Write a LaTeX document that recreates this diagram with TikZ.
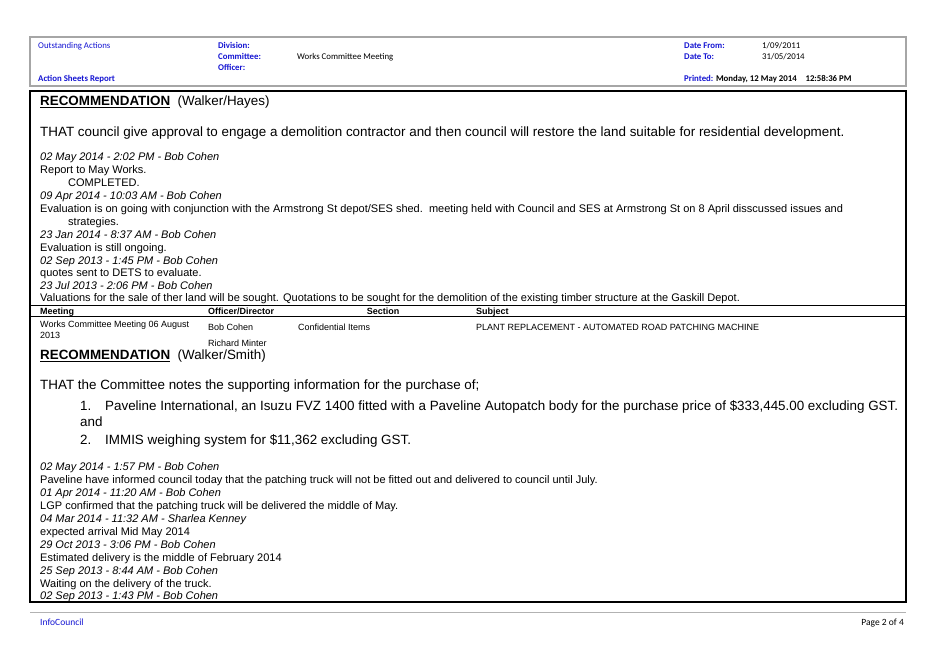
\documentclass[tikz,border=0pt]{standalone}
\usepackage{fontspec}
\setmainfont{Liberation Sans}
\newfontfamily\hdr{Carlito}
\definecolor{hblue}{RGB}{20,20,210}
\begin{document}
\begin{tikzpicture}[x=1pt,y=-1pt,
  base/.style={anchor=west,inner sep=0pt,text height=1.5ex,text depth=.3ex},
  t/.style={base,font=\fontsize{11}{12}\selectfont},
  ti/.style={base,font=\fontsize{11}{12}\selectfont\itshape},
  big/.style={base,font=\fontsize{13.4}{15}\selectfont},
  rec/.style={base,font=\fontsize{13.4}{15}\selectfont},
  sm/.style={base,font=\fontsize{9}{10}\selectfont},
  smb/.style={base,font=\fontsize{9}{10}\selectfont\bfseries},
  h/.style={base,font=\hdr\fontsize{8.8}{9}\selectfont},
  hb/.style={base,font=\hdr\fontsize{8.8}{9}\selectfont\bfseries,text=hblue}]
\useasboundingbox (0,0) rectangle (939,664);
% header box
\draw[gray!70,line width=1.2pt] (30,37) rectangle (906,86);
\node[h,text=hblue] (oa) at (38,45) {Outstanding Actions};
\node[hb] (div) at (218,45) {Division:};
\node[hb] (com) at (218,56) {Committee:};
\node[hb] (off) at (218,67) {Officer:};
\node[h] (wcm) at (297,56) {Works Committee Meeting};
\node[hb] (asr) at (38,78) {Action Sheets Report};
\node[hb] (df) at (684,45) {Date From:};
\node[h] (dfv) at (762,45) {1/09/2011};
\node[hb] (dt) at (684,56) {Date To:};
\node[h] (dtv) at (762,56) {31/05/2014};
\node[hb] (pr) at (684,78) {Printed: \textcolor{black}{Monday, 12 May 2014\quad 12:58:36 PM}};
% main box
\draw[line width=1.3pt] (30,91) rectangle (906,602);
\draw[line width=1pt] (30,305) -- (906,305);
\draw[line width=1pt] (30,316.5) -- (906,316.5);
\node[rec] (r1) at (40,102) {\textbf{\underline{RECOMMENDATION}}\ \ (Walker/Hayes)};
\node[big] (p1) at (40,133) {THAT council give approval to engage a demolition contractor and then council will restore the land suitable for residential development.};
\node[ti] (a1) at (40,157) {02 May 2014 - 2:02 PM - Bob Cohen};
\node[t] (a2) at (40,170) {Report to May Works.};
\node[t] (a3) at (68,183) {COMPLETED.};
\node[ti] (a4) at (40,196) {09 Apr 2014 - 10:03 AM - Bob Cohen};
\node[t] (a5) at (40,209) {Evaluation is on going with conjunction with the Armstrong St depot/SES shed.\ \ meeting held with Council and SES at Armstrong St on 8 April disscussed issues and};
\node[t] (a6) at (68,222) {strategies.};
\node[ti] (a7) at (40,235) {23 Jan 2014 - 8:37 AM - Bob Cohen};
\node[t] (a8) at (40,248) {Evaluation is still ongoing.};
\node[ti] (a9) at (40,261) {02 Sep 2013 - 1:45 PM - Bob Cohen};
\node[t] (a10) at (40,273) {quotes sent to DETS to evaluate.};
\node[ti] (a11) at (40,286) {23 Jul 2013 - 2:06 PM - Bob Cohen};
\node[t] (a12) at (40,298) {Valuations for the sale of ther land will be sought. Quotations to be sought for the demolition of the existing timber structure at the Gaskill Depot.};
% table
\node[smb] (th1) at (40,311) {Meeting};
\node[smb] (th2) at (208,311) {Officer/Director};
\node[smb,anchor=center] (th3) at (383,311) {Section};
\node[smb] (th4) at (476,311) {Subject};
\node[anchor=north west,inner sep=0pt,font=\fontsize{9}{11}\selectfont,align=left] (c1) at (40,321) {Works Committee Meeting 06 August\\2013};
\node[sm] (c2) at (208,327) {Bob Cohen};
\node[sm] (c2b) at (208,343) {Richard Minter};
\node[sm] (c3) at (298,327) {Confidential Items};
\node[sm] (c4) at (476,327) {PLANT REPLACEMENT - AUTOMATED ROAD PATCHING MACHINE};
\node[rec] (r2) at (40,356) {\textbf{\underline{RECOMMENDATION}}\ \ (Walker/Smith)};
\node[big] (p2) at (40,386) {THAT the Committee notes the supporting information for the purchase of;};
\node[big] (n1) at (80,407) {1.};
\node[big] (p3) at (105,407) {\makebox[793pt][s]{Paveline International, an Isuzu FVZ 1400 fitted with a Paveline Autopatch body for the purchase price of \$333,445.00 excluding GST.}};
\node[big] (p4) at (80,423) {and};
\node[big] (n2) at (80,441) {2.};
\node[big] (p5) at (105,441) {IMMIS weighing system for \$11,362 excluding GST.};
\node[ti] (b1) at (40,467) {02 May 2014 - 1:57 PM - Bob Cohen};
\node[t] (b2) at (40,480) {Paveline have informed council today that the patching truck will not be fitted out and delivered to council until July.};
\node[ti] (b3) at (40,493) {01 Apr 2014 - 11:20 AM - Bob Cohen};
\node[t] (b4) at (40,506) {LGP confirmed that the patching truck will be delivered the middle of May.};
\node[ti] (b5) at (40,519) {04 Mar 2014 - 11:32 AM - Sharlea Kenney};
\node[t] (b6) at (40,532) {expected arrival Mid May 2014};
\node[ti] (b7) at (40,545) {29 Oct 2013 - 3:06 PM - Bob Cohen};
\node[t] (b8) at (40,558) {Estimated delivery is the middle of February 2014};
\node[ti] (b9) at (40,571) {25 Sep 2013 - 8:44 AM - Bob Cohen};
\node[t] (b10) at (40,584) {Waiting on the delivery of the truck.};
\node[ti] (b11) at (40,596) {02 Sep 2013 - 1:43 PM - Bob Cohen};
% footer
\draw[gray!60,line width=0.6pt] (30,612) -- (906,612);
\node[h,text=hblue,font=\hdr\fontsize{9.5}{10}\selectfont] (ic) at (40,622) {InfoCouncil};
\node[h,anchor=east,font=\hdr\fontsize{9.5}{10}\selectfont] (pg) at (904,622) {Page 2 of 4};
\end{tikzpicture}
\end{document}
